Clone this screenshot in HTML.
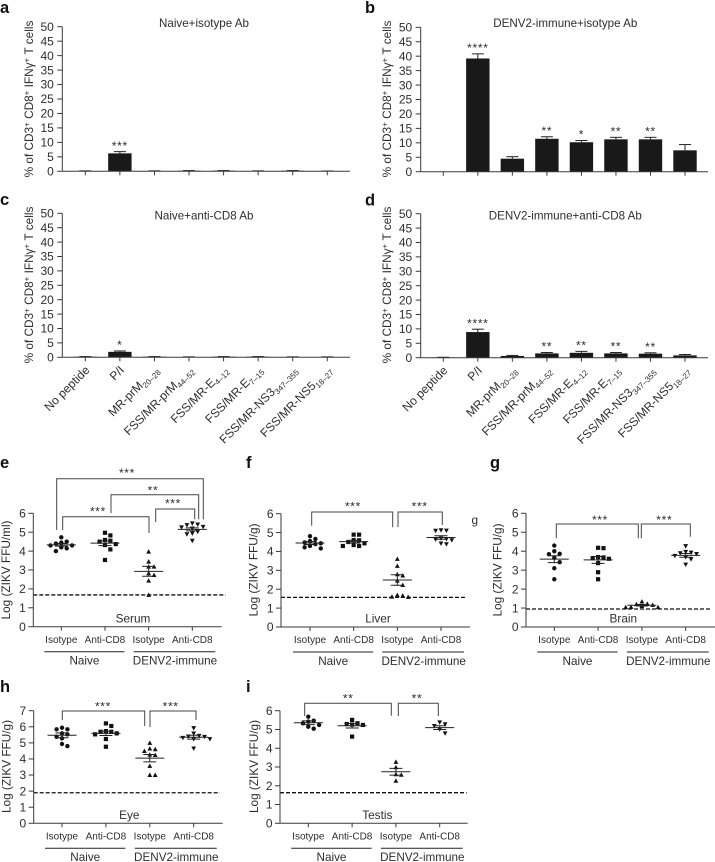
<!DOCTYPE html>
<html lang="en">
<head>
<meta charset="utf-8">
<title>Anti-CD8 depletion and ZIKV titres</title>
<style>
html,body{margin:0;padding:0;background:#fff;}
body{width:715px;height:862px;overflow:hidden;}
svg{display:block;filter:blur(0.3px);}
text{font-family:"Liberation Sans",Arial,sans-serif;fill:#2e2e2e;}
.letter{font-size:16.5px;font-weight:bold;fill:#111;}
.title{font-size:11.6px;text-anchor:middle;}
.ytitle{font-size:11.8px;text-anchor:middle;}
.tissue{font-size:11.8px;text-anchor:middle;}
</style>
</head>
<body>
<svg id="figure" xmlns="http://www.w3.org/2000/svg" width="715" height="862" viewBox="0 0 715 862">
  <text class="letter" x="0" y="13">a</text>
  <text class="letter" x="365" y="13">b</text>
  <text class="letter" x="0" y="205">c</text>
  <text class="letter" x="365" y="205.5">d</text>
  <text class="letter" x="0" y="468">e</text>
  <text class="letter" x="246" y="468">f</text>
  <text class="letter" x="490" y="468">g</text>
  <text class="letter" x="0" y="692">h</text>
  <text class="letter" x="246" y="692">i</text>
  <text x="471.5" y="524" font-size="11.8">g</text>

  <text class="title" x="204" y="27">Naive+isotype Ab</text>
  <text class="title" x="565.3" y="27">DENV2-immune+isotype Ab</text>
  <text class="title" x="204" y="219.5">Naive+anti-CD8 Ab</text>
  <text class="title" x="565.3" y="219.5">DENV2-immune+anti-CD8 Ab</text>

  <text class="ytitle" transform="translate(33,99) rotate(-90)">% of CD3<tspan dy="-3.5" font-size="8">+</tspan><tspan dy="3.5"> CD8</tspan><tspan dy="-3.5" font-size="8">+</tspan><tspan dy="3.5"> IFNγ</tspan><tspan dy="-3.5" font-size="8">+</tspan><tspan dy="3.5"> T cells</tspan></text>
  <text class="ytitle" transform="translate(391,99) rotate(-90)">% of CD3<tspan dy="-3.5" font-size="8">+</tspan><tspan dy="3.5"> CD8</tspan><tspan dy="-3.5" font-size="8">+</tspan><tspan dy="3.5"> IFNγ</tspan><tspan dy="-3.5" font-size="8">+</tspan><tspan dy="3.5"> T cells</tspan></text>
  <text class="ytitle" transform="translate(33,285) rotate(-90)">% of CD3<tspan dy="-3.5" font-size="8">+</tspan><tspan dy="3.5"> CD8</tspan><tspan dy="-3.5" font-size="8">+</tspan><tspan dy="3.5"> IFNγ</tspan><tspan dy="-3.5" font-size="8">+</tspan><tspan dy="3.5"> T cells</tspan></text>
  <text class="ytitle" transform="translate(391,285) rotate(-90)">% of CD3<tspan dy="-3.5" font-size="8">+</tspan><tspan dy="3.5"> CD8</tspan><tspan dy="-3.5" font-size="8">+</tspan><tspan dy="3.5"> IFNγ</tspan><tspan dy="-3.5" font-size="8">+</tspan><tspan dy="3.5"> T cells</tspan></text>

  <text class="ytitle" transform="translate(10,570) rotate(-90)">Log (ZIKV FFU/ml)</text>
  <text class="ytitle" transform="translate(257.5,570) rotate(-90)">Log (ZIKV FFU/g)</text>
  <text class="ytitle" transform="translate(501.5,570) rotate(-90)">Log (ZIKV FFU/g)</text>
  <text class="ytitle" transform="translate(10.5,766.5) rotate(-90)">Log (ZIKV FFU/g)</text>
  <text class="ytitle" transform="translate(258,766.5) rotate(-90)">Log (ZIKV FFU/g)</text>

  <text class="tissue" x="133" y="622.7">Serum</text>
  <text class="tissue" x="378" y="622.7">Liver</text>
  <text class="tissue" x="623.3" y="622.7">Brain</text>
  <text class="tissue" x="129.3" y="819">Eye</text>
  <text class="tissue" x="377.3" y="819">Testis</text>
</svg>
<script>
// ---------- shared categories and tick labels ----------
const barCategoryNames = ['No peptide', 'P/I', 'MR-prM', 'FSS/MR-prM', 'FSS/MR-E', 'FSS/MR-E', 'FSS/MR-NS3', 'FSS/MR-NS5'];
const barCategorySubs = ['', '', '20–28', '44–52', '4–12', '7–15', '347–355', '18–27'];
const barTickLabels = [0, 5, 10, 15, 20, 25, 30, 35, 40, 45, 50];
const logTickLabels = [0, 1, 2, 3, 4, 5, 6];
const eyeTickLabels = [0, 1, 2, 3, 4, 5, 6, 7];
const groupLabels = ['Isotype', 'Anti-CD8', 'Isotype', 'Anti-CD8'];

// ---------- bar panels ----------
const panelAValues = [0.1, 6.2, 0.1, 0.2, 0.2, 0.1, 0.2, 0.05];
const panelAErrors = [0.05, 0.6, 0.05, 0.05, 0.05, 0.05, 0.05, 0.05];
const panelAStars = ['', '***', '', '', '', '', '', ''];
const panelBValues = [0, 39.2, 4.5, 11.4, 10.2, 11.2, 11.2, 7.4];
const panelBErrors = [0, 1.6, 0.7, 0.7, 0.6, 0.7, 0.7, 2.0];
const panelBStars = ['', '****', '', '**', '*', '**', '**', ''];
const panelCValues = [0.2, 1.9, 0.2, 0.1, 0.2, 0.2, 0.1, 0.1];
const panelCErrors = [0.05, 0.3, 0.05, 0.05, 0.05, 0.05, 0.05, 0.05];
const panelCStars = ['', '*', '', '', '', '', '', ''];
const panelDValues = [0.1, 8.9, 0.6, 1.5, 1.7, 1.5, 1.4, 0.8];
const panelDErrors = [0.05, 1.0, 0.2, 0.3, 0.5, 0.3, 0.3, 0.3];
const panelDStars = ['', '****', '', '**', '**', '**', '**', ''];

// ---------- scatter panels ----------
const panelENaiveIsotype = [4.73, 4.5, 4.45, 4.4, 4.3, 4.3, 4.2, 4.15, 4.0];
const panelENaiveAntiCD8 = [4.97, 4.83, 4.59, 4.55, 4.5, 4.37, 4.32, 4.09, 3.53];
const panelEImmuneIsotype = [3.97, 3.44, 3.17, 3.17, 2.82, 2.73, 2.43, 1.68];
const panelEImmuneAntiCD8 = [5.47, 5.41, 5.38, 5.29, 5.26, 5.2, 5.03, 4.94, 4.9, 4.55];
const panelEMeans = [4.33, 4.42, 2.93, 5.15];
const panelESems = [0.07, 0.13, 0.26, 0.08];
const panelELimit = [1.68];

const panelFNaiveIsotype = [4.81, 4.66, 4.55, 4.48, 4.43, 4.39, 4.29, 4.22, 4.16];
const panelFNaiveAntiCD8 = [4.89, 4.89, 4.6, 4.59, 4.5, 4.43, 4.34, 4.29, 4.29];
const panelFImmuneIsotype = [3.6, 3.23, 2.79, 2.72, 2.45, 2.22, 1.69, 1.66, 1.6, 1.59];
const panelFImmuneAntiCD8 = [5.13, 5.11, 5.1, 4.69, 4.66, 4.64, 4.6, 4.43, 4.39];
const panelFMeans = [4.45, 4.52, 2.49, 4.74];
const panelFSems = [0.08, 0.07, 0.28, 0.09];
const panelFLimit = [1.57];

const panelGNaiveIsotype = [4.3, 4.0, 3.86, 3.84, 3.65, 3.42, 3.1, 2.52];
const panelGNaiveAntiCD8 = [4.18, 4.16, 3.69, 3.67, 3.63, 3.6, 3.37, 2.89, 2.52];
const panelGImmuneIsotype = [1.34, 1.22, 1.2, 1.16, 1.1, 1.05, 1.04, 1.04];
const panelGImmuneAntiCD8 = [4.27, 3.97, 3.93, 3.9, 3.86, 3.76, 3.69, 3.58, 3.3];
const panelGMeans = [3.58, 3.54, 1.15, 3.78];
const panelGSems = [0.18, 0.18, 0.04, 0.1];
const panelGLimit = [0.95];

const panelHNaiveIsotype = [5.94, 5.84, 5.84, 5.59, 5.53, 5.38, 5.28, 4.93, 4.8];
const panelHNaiveAntiCD8 = [6.21, 6.05, 5.73, 5.69, 5.69, 5.59, 5.53, 5.24, 4.76];
const panelHImmuneIsotype = [4.99, 4.64, 4.6, 4.49, 4.26, 4.24, 3.56, 3.0, 3.0];
const panelHImmuneAntiCD8 = [5.92, 5.59, 5.44, 5.4, 5.38, 5.32, 5.24, 5.24, 4.66];
const panelHMeans = [5.47, 5.59, 4.05, 5.35];
const panelHSems = [0.15, 0.13, 0.23, 0.12];
const panelHLimit = [1.9];

const panelINaiveIsotype = [5.68, 5.47, 5.42, 5.33, 5.24, 5.15, 5.04];
const panelINaiveAntiCD8 = [5.51, 5.33, 5.29, 5.26, 5.24, 4.62];
const panelIImmuneIsotype = [3.27, 2.98, 2.61, 2.58, 2.26];
const panelIImmuneAntiCD8 = [5.38, 5.28, 5.19, 5.01, 4.8];
const panelIMeans = [5.36, 5.2, 2.75, 5.1];
const panelISems = [0.1, 0.12, 0.18, 0.1];
const panelILimit = [1.63];

// ---------- drawing helpers ----------
const SVG_NS = 'http://www.w3.org/2000/svg';
const figure = document.getElementById('figure');
const INK = '#3a3a3a';

function make(parent, tag, attrs, text) {
  const el = document.createElementNS(SVG_NS, tag);
  Object.keys(attrs).forEach(function (k) { el.setAttribute(k, attrs[k]); });
  if (text !== undefined) el.textContent = text;
  parent.appendChild(el);
  return el;
}

function segment(parent, x1, y1, x2, y2, width, color) {
  return make(parent, 'line', { x1: x1, y1: y1, x2: x2, y2: y2, stroke: color || INK, 'stroke-width': width || 1 });
}

function starText(parent, cx, cy, stars) {
  const t = make(parent, 'text', { x: cx, y: cy + 5.5, 'text-anchor': 'middle', 'font-size': 12, 'letter-spacing': 0.7 }, stars);
  
  
  return t;
}

function yAxis(parent, g, tickValues, scale, tickLen, labelGap, size) {
  const axis = segment(parent, g.axisX, scale(tickValues[tickValues.length - 1]), g.axisX, g.y0, 1);
  
  
  tickValues.forEach(function (v) {
    const y = scale(v);
    const tick = segment(parent, g.axisX - tickLen, y, g.axisX, y, 1);
    
    
    const label = make(parent, 'text', { x: g.axisX - labelGap, y: y + 4.2, 'text-anchor': 'end', 'font-size': size }, String(v));
    
    
  });
}

// ---------- bar panels ----------
function drawBarPanel(name, g, values, errors, stars, showLabels) {
  const panel = make(figure, 'g', {});
  
  
  const yScale = function (v) { return g.y0 - v * (g.y0 - g.yTop) / 50; };
  const xScale = function (i) { return g.firstX + i * g.step; };

  values.forEach(function (v, i) {
    const x = xScale(i);
    const top = yScale(v);
    const bar = make(panel, 'rect', { x: x - 11.7, y: top, width: 23.4, height: Math.max(g.y0 - top, 0), fill: '#191919' });
    
    
    const errTop = yScale(v + errors[i]);
    if (errors[i] > 0) {
      const stem = segment(panel, x, top, x, errTop, 1, '#222');
      
      
      const cap = segment(panel, x - 6, errTop, x + 6, errTop, 1, '#222');
      
      
    }
    if (stars[i]) starText(panel, x, errTop - 7.3, stars[i]);
    const tick = segment(panel, x, g.y0, x, g.y0 + 4, 1);
    
    
    if (showLabels) {
      const lx = x + 5;
      const ly = g.y0 + 13.5;
      const label = make(panel, 'text', { transform: 'translate(' + lx + ',' + ly + ') rotate(-45)', 'text-anchor': 'end', 'font-size': 12 }, barCategoryNames[i]);
      
      
      if (barCategorySubs[i]) make(label, 'tspan', { dy: 2.8, 'font-size': 8 }, barCategorySubs[i]);
    }
  });

  const xAxis = segment(panel, g.axisX, g.y0, g.axisEnd, g.y0, 1);
  
  
  yAxis(panel, g, barTickLabels, yScale, 5, 8.5, 12);
}

// ---------- scatter panels ----------
function marker(parent, kind, x, y) {
  let m;
  if (kind === 0) {
    m = make(parent, 'circle', { cx: x, cy: y, r: 2.2, fill: '#111' });
  } else if (kind === 1) {
    m = make(parent, 'rect', { x: x - 2.1, y: y - 2.1, width: 4.2, height: 4.2, fill: '#111' });
  } else if (kind === 2) {
    m = make(parent, 'polygon', { points: [x, y - 2.5, x + 2.4, y + 1.9, x - 2.4, y + 1.9].join(' '), fill: '#111' });
  } else {
    m = make(parent, 'polygon', { points: [x, y + 2.5, x + 2.4, y - 1.9, x - 2.4, y - 1.9].join(' '), fill: '#111' });
  }
  return m;
}

// Lays points out horizontally so they do not overlap, from their values alone.
function swarmOffsets(pixelYs) {
  const placed = [];
  return pixelYs.map(function (y) {
    const steps = [0, 1, -1, 2, -2, 3, -3, 4, -4];
    for (let s = 0; s < steps.length; s++) {
      const off = steps[s] * 5.4;
      const clash = placed.some(function (p) {
        return Math.abs(p.off - off) < 4.8 && Math.abs(p.y - y) < 4.4;
      });
      if (!clash) {
        placed.push({ off: off, y: y });
        return off;
      }
    }
    return 0;
  });
}

function bracket(parent, name, x1, x2, top, drop1, drop2, stars, starX, starY) {
  const p = make(parent, 'path', { d: 'M' + x1 + ' ' + drop1 + 'V' + top + 'H' + x2 + 'V' + drop2, fill: 'none', stroke: '#444', 'stroke-width': 1 });
  
  
  starText(parent, starX, starY, stars);
}

function drawScatterPanel(name, g, series, means, sems, limit, tickValues) {
  const panel = make(figure, 'g', {});
  
  
  const top = tickValues[tickValues.length - 1];
  const yScale = function (v) { return g.y0 - v * (g.y0 - g.yTop) / top; };
  const xScale = function (i) { return g.firstX + i * g.step; };

  series.forEach(function (vals, i) {
    const cx = xScale(i);
    const ys = vals.map(yScale);
    const offs = swarmOffsets(ys);
    ys.forEach(function (y, k) {
      const dot = marker(panel, i, cx + offs[k], y);
      
      
    });
    const my = yScale(means[i]);
    const mean = segment(panel, cx - 14.5, my, cx + 14.5, my, 1, '#222');
    
    
    const hi = yScale(means[i] + sems[i]);
    const lo = yScale(means[i] - sems[i]);
    const sem = make(panel, 'path', { d: 'M' + (cx - 6.5) + ' ' + hi + 'H' + (cx + 6.5) + 'M' + cx + ' ' + hi + 'V' + lo + 'M' + (cx - 6.5) + ' ' + lo + 'H' + (cx + 6.5), fill: 'none', stroke: '#222', 'stroke-width': 1 });
    
    
    const tick = segment(panel, cx, g.y0, cx, g.y0 + 4, 1);
    
    
    const label = make(panel, 'text', { x: cx, y: g.y0 + 16.2, 'text-anchor': 'middle', 'font-size': 10 }, groupLabels[i]);
    
    
  });

  const limitY = yScale(limit[0]);
  const dash = make(panel, 'line', { x1: g.axisX, y1: limitY, x2: g.limitEnd, y2: limitY, stroke: '#111', 'stroke-width': 1.3, 'stroke-dasharray': '4 2' });
  
  

  const xAxis = segment(panel, g.axisX, g.y0, g.axisEnd, g.y0, 1);
  
  
  yAxis(panel, g, tickValues, yScale, 5, 7.5, 12);

  const lineY = g.y0 + 25;
  const naiveLine = segment(panel, xScale(0) - 17, lineY, xScale(1) + 19.5, lineY, 1, '#222');
  
  
  const immuneLine = segment(panel, xScale(2) - 15, lineY, xScale(3) + 23, lineY, 1, '#222');
  
  
  const naive = make(panel, 'text', { x: (xScale(0) + xScale(1)) / 2 + 1.3, y: g.y0 + 37.8, 'text-anchor': 'middle', 'font-size': 11.7 }, 'Naive');
  
  
  const immune = make(panel, 'text', { x: (xScale(2) + xScale(3)) / 2 + 4.5, y: g.y0 + 37.8, 'text-anchor': 'middle', 'font-size': 11.7 }, 'DENV2-immune');
  
  
  return panel;
}

// ---------- render ----------
drawBarPanel('a', { axisX: 62.3, axisEnd: 350, y0: 171.3, yTop: 26.7, firstX: 85.3, step: 34.57 }, panelAValues, panelAErrors, panelAStars, false);
drawBarPanel('b', { axisX: 420.7, axisEnd: 708, y0: 171.7, yTop: 27.3, firstX: 443.3, step: 34.53 }, panelBValues, panelBErrors, panelBStars, false);
drawBarPanel('c', { axisX: 62.3, axisEnd: 350, y0: 357.3, yTop: 213.3, firstX: 85.3, step: 34.57 }, panelCValues, panelCErrors, panelCStars, true);
drawBarPanel('d', { axisX: 420.7, axisEnd: 708, y0: 357.7, yTop: 213.7, firstX: 443.3, step: 34.53 }, panelDValues, panelDErrors, panelDStars, true);

const panelE = drawScatterPanel('e', { axisX: 33.3, axisEnd: 221.7, limitEnd: 225.7, y0: 626.7, yTop: 513.3, firstX: 61.3, step: 43.67 },
  [panelENaiveIsotype, panelENaiveAntiCD8, panelEImmuneIsotype, panelEImmuneAntiCD8], panelEMeans, panelESems, panelELimit, logTickLabels);
bracket(panelE, 'e-outer', 56.7, 203.3, 478.7, 530, 519.3, '***', 127, 471.7);
bracket(panelE, 'e-middle', 111, 198.7, 494.7, 513, 519.3, '**', 153, 489);
bracket(panelE, 'e-left', 62.7, 149, 516.7, 530, 533, '***', 98, 510);
bracket(panelE, 'e-right', 155.7, 194.7, 509, 522, 519.3, '***', 173, 502);

const panelF = drawScatterPanel('f', { axisX: 281, axisEnd: 470, limitEnd: 467, y0: 627, yTop: 513.7, firstX: 310, step: 43.67 },
  [panelFNaiveIsotype, panelFNaiveAntiCD8, panelFImmuneIsotype, panelFImmuneAntiCD8], panelFMeans, panelFSems, panelFLimit, logTickLabels);
bracket(panelF, 'f-left', 311.7, 392.7, 512, 525.7, 527.3, '***', 353, 505);
bracket(panelF, 'f-right', 398, 442.3, 512, 527, 525, '***', 419.7, 505);

const panelG = drawScatterPanel('g', { axisX: 526, axisEnd: 715, limitEnd: 712, y0: 627, yTop: 513.3, firstX: 554.3, step: 43.8 },
  [panelGNaiveIsotype, panelGNaiveAntiCD8, panelGImmuneIsotype, panelGImmuneAntiCD8], panelGMeans, panelGSems, panelGLimit, logTickLabels);
bracket(panelG, 'g-left', 556.3, 638.3, 524, 538.3, 538.3, '***', 600, 518.7);
bracket(panelG, 'g-right', 641.3, 690.3, 524, 538.3, 536.7, '***', 664.3, 518.7);

const panelH = drawScatterPanel('h', { axisX: 33.7, axisEnd: 222.7, limitEnd: 220, y0: 823.3, yTop: 710.7, firstX: 62, step: 43.9 },
  [panelHNaiveIsotype, panelHNaiveAntiCD8, panelHImmuneIsotype, panelHImmuneAntiCD8], panelHMeans, panelHSems, panelHLimit, eyeTickLabels);
bracket(panelH, 'h-left', 62.3, 144.7, 711, 720, 726, '***', 103, 705);
bracket(panelH, 'h-right', 150, 196, 711, 727, 720, '***', 170.7, 705);

const panelI = drawScatterPanel('i', { axisX: 280, axisEnd: 467.7, limitEnd: 466.7, y0: 823.3, yTop: 710.7, firstX: 308.3, step: 43.8 },
  [panelINaiveIsotype, panelINaiveAntiCD8, panelIImmuneIsotype, panelIImmuneAntiCD8], panelIMeans, panelISems, panelILimit, logTickLabels);
bracket(panelI, 'i-left', 304.7, 391.3, 703.3, 716, 715.7, '**', 348.3, 697);
bracket(panelI, 'i-right', 398.3, 438.3, 703.3, 716, 716, '**', 417, 697);
</script>
</body>
</html>
